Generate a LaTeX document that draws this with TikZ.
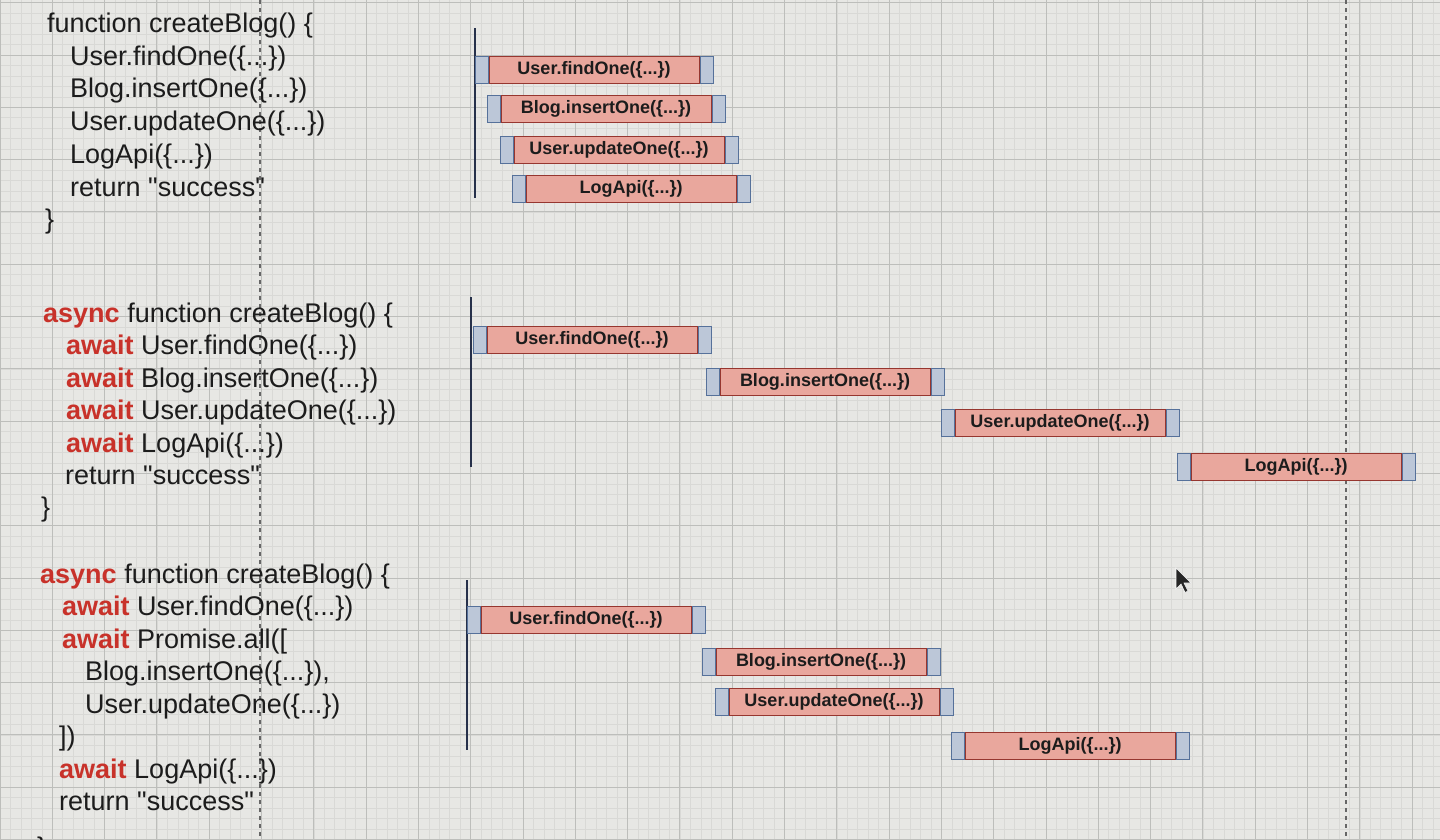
\documentclass[tikz,border=0pt]{standalone}
\usepackage{fontspec}
\setmainfont{Liberation Sans}
\definecolor{bg}{HTML}{E7E7E4}
\definecolor{gridminor}{HTML}{D9D9D6}
\definecolor{gridmajor}{HTML}{BDBEBB}
\definecolor{ink}{HTML}{1C1C1C}
\definecolor{kwred}{HTML}{C8322A}
\definecolor{barfill}{HTML}{E9A79D}
\definecolor{barline}{HTML}{96362F}
\definecolor{capfill}{HTML}{BCC7D8}
\definecolor{capline}{HTML}{56719A}
\definecolor{axis}{HTML}{26304A}
\newcommand\kw[1]{\textcolor{kwred}{\bfseries #1}}
\newcommand\dq{\XeTeXglyph\XeTeXcharglyph34\relax}
\tikzset{
  minorline/.style={draw=gridminor, line width=0.6pt},
  majorline/.style={draw=gridmajor, line width=1pt},
  pagebreak/.style={draw=black!60, line width=1.2pt, dash pattern=on 4pt off 4pt},
  codeline/.style={anchor=base west, inner sep=0pt, text=ink, font=\fontsize{27}{32}\selectfont},
  redbar/.style={draw=barline, fill=barfill, line width=1pt, minimum width=210pt, minimum height=27pt, inner sep=0pt, text=ink, font=\bfseries\fontsize{18}{20}\selectfont},
  capbox/.style={draw=capline, fill=capfill, line width=1pt, minimum width=13pt, minimum height=27pt, inner sep=0pt},
  timeline/.style={draw=axis, line width=2pt},
}
\newcommand\callbar[4]{%
  \node[redbar] (#1) at ({#2+118},{#3+14}) {#4};
  \node[capbox, anchor=east] (#1-l) at (#1.west) {};
  \node[capbox, anchor=west] (#1-r) at (#1.east) {};
}
\begin{document}
\begin{tikzpicture}[x=1pt,y=-1pt]
\useasboundingbox (0,0) rectangle (1440,839);
\fill[bg] (0,0) rectangle (1440,839);
% grid
\foreach \i in {0,...,138} \draw[minorline] ({\i*10.46},0) -- ({\i*10.46},839);
\foreach \j in {0,...,80} \draw[minorline] (0,{\j*10.46+2.7}) -- (1440,{\j*10.46+2.7});
\foreach \i in {0,...,27} \draw[majorline] ({\i*52.3},0) -- ({\i*52.3},839);
\foreach \j in {0,...,16} \draw[majorline] (0,{\j*52.3+2.7}) -- (1440,{\j*52.3+2.7});
\draw[pagebreak] (260,0) -- (260,839);
\draw[pagebreak] (1346,0) -- (1346,839);

% ---- section 1: synchronous
\node[codeline] (a1) at (47,32) {function createBlog() \{};
\node[codeline] (a2) at (70,65) {User.findOne(\{...\})};
\node[codeline] (a3) at (70,97) {Blog.insertOne(\{...\})};
\node[codeline] (a4) at (70,130) {User.updateOne(\{...\})};
\node[codeline] (a5) at (70,163) {LogApi(\{...\})};
\node[codeline] (a6) at (70,196) {return \dq success\dq};
\node[codeline] (a7) at (45,228) {\}};
\coordinate (t1top) at (475,28);
\coordinate (t1bot) at (475,198);
\draw[timeline] (t1top) -- (t1bot);
\callbar{s1a}{476}{56}{User.findOne(\{...\})}
\callbar{s1b}{488}{95}{Blog.insertOne(\{...\})}
\callbar{s1c}{501}{136}{User.updateOne(\{...\})}
\callbar{s1d}{513}{175}{LogApi(\{...\})}

% ---- section 2: sequential awaits
\node[codeline] (b1) at (43,322) {\kw{async} function createBlog() \{};
\node[codeline] (b2) at (66,354) {\kw{await} User.findOne(\{...\})};
\node[codeline] (b3) at (66,387) {\kw{await} Blog.insertOne(\{...\})};
\node[codeline] (b4) at (66,419) {\kw{await} User.updateOne(\{...\})};
\node[codeline] (b5) at (66,452) {\kw{await} LogApi(\{...\})};
\node[codeline] (b6) at (65,484) {return \dq success\dq};
\node[codeline] (b7) at (41,516) {\}};
\coordinate (t2top) at (471,297);
\coordinate (t2bot) at (471,467);
\draw[timeline] (t2top) -- (t2bot);
\callbar{s2a}{474}{326}{User.findOne(\{...\})}
\callbar{s2b}{707}{368}{Blog.insertOne(\{...\})}
\callbar{s2c}{942}{409}{User.updateOne(\{...\})}
\callbar{s2d}{1178}{453}{LogApi(\{...\})}

% ---- section 3: Promise.all
\node[codeline] (c1) at (40,583) {\kw{async} function createBlog() \{};
\node[codeline] (c2) at (62,615) {\kw{await} User.findOne(\{...\})};
\node[codeline] (c3) at (62,648) {\kw{await} Promise.all([};
\node[codeline] (c4) at (85,680) {Blog.insertOne(\{...\}),};
\node[codeline] (c5) at (85,713) {User.updateOne(\{...\})};
\node[codeline] (c6) at (59,745) {])};
\node[codeline] (c7) at (59,778) {\kw{await} LogApi(\{...\})};
\node[codeline] (c8) at (59,810) {return \dq success\dq};
\node[codeline] (c9) at (37,856) {\}};
\coordinate (t3top) at (467,580);
\coordinate (t3bot) at (467,750);
\draw[timeline] (t3top) -- (t3bot);
\callbar{s3a}{468}{606}{User.findOne(\{...\})}
\callbar{s3b}{703}{648}{Blog.insertOne(\{...\})}
\callbar{s3c}{716}{688}{User.updateOne(\{...\})}
\callbar{s3d}{952}{732}{LogApi(\{...\})}

% mouse cursor
\fill[black!85, draw=white, line width=0.6pt] (1176,568) -- ++(0,21) -- ++(5,-5) -- ++(4,8.5) -- ++(3,-1.5) -- ++(-4,-8) -- ++(7,0) -- cycle;
\end{tikzpicture}
\end{document}
